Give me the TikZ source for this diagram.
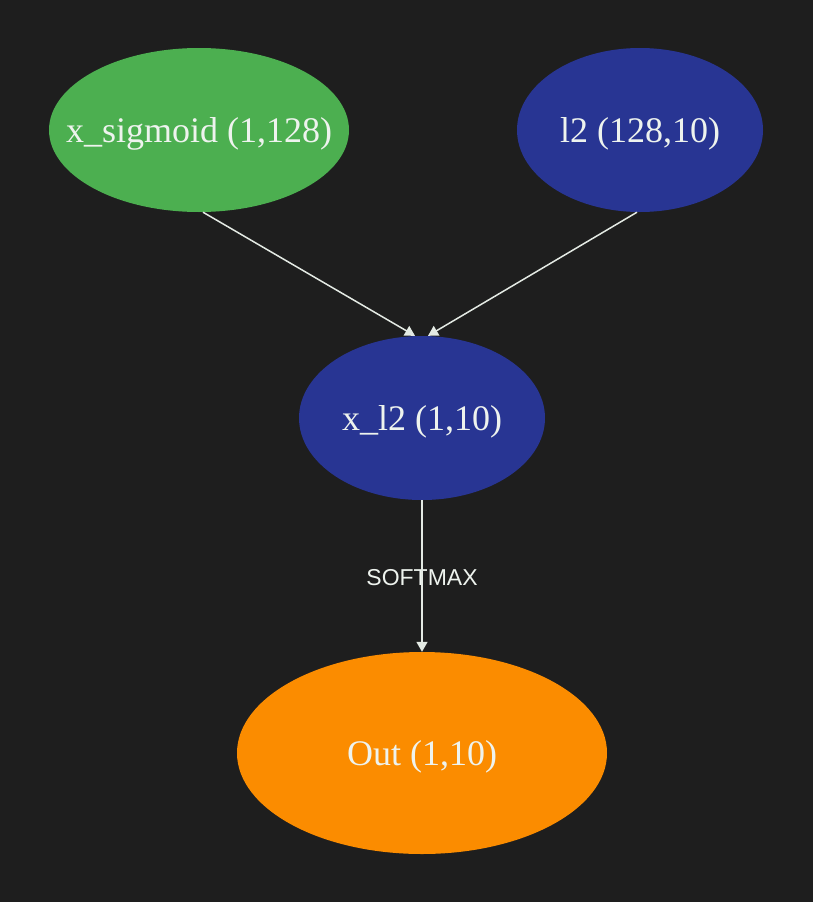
\documentclass[tikz,border=0pt]{standalone}
\usepackage{fontspec}
\setmainfont{Liberation Serif}
\setsansfont{Liberation Sans}
\usetikzlibrary{shapes.geometric,arrows.meta}
\definecolor{bgdark}{HTML}{1E1E1E}
\definecolor{sigmoidgreen}{HTML}{4CAF50}
\definecolor{layerblue}{HTML}{283593}
\definecolor{outorange}{HTML}{FB8C00}
\definecolor{nodetext}{HTML}{EEF3EE}
\definecolor{edgecol}{HTML}{E4EAE4}
\begin{document}
\begin{tikzpicture}
  [x=1pt,y=-1pt,
   tensor/.style={ellipse,inner xsep=-40pt,inner ysep=0pt,text depth=0pt,text=nodetext,font=\fontsize{36}{40}\selectfont},
   edge/.style={draw=edgecol,line width=1.5pt,-{Triangle[length=10pt,width=11pt]}}]
\useasboundingbox (0,0) rectangle (812,902);
\fill[bgdark] (-5,-5) rectangle (817,907); % background
\node at (199,130) (xsig) [tensor, fill=sigmoidgreen, minimum width=300pt, minimum height=164pt] {x\_sigmoid (1,128)};
\node at (640,130) (ltwo) [tensor, fill=layerblue, minimum width=246pt, minimum height=164pt] {l2 (128,10)};
\node at (422,418) (xltwo) [tensor, fill=layerblue, minimum width=246pt, minimum height=164pt] {x\_l2 (1,10)};
\node at (422,753) (out) [tensor, fill=outorange, minimum width=370pt, minimum height=202pt] {Out (1,10)};
%
\node at (422,578) (softmax) [text=nodetext, font=\sffamily\fontsize{23}{26}\selectfont] {SOFTMAX};
\draw [edge] ([xshift=4pt]xsig.south) -- ([xshift=-7pt]xltwo.north);
\draw [edge] ([xshift=-3pt]ltwo.south) -- ([xshift=6pt]xltwo.north);
\draw [edge] (xltwo.south) -- (out.north);
\end{tikzpicture}
\end{document}
